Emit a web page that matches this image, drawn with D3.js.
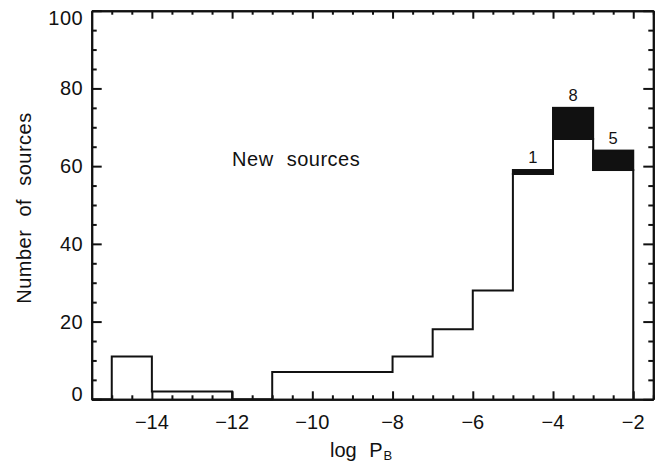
<!DOCTYPE html>
<html>
<head>
<meta charset="utf-8">
<script src="https://cdn.jsdelivr.net/npm/d3@7"></script>
<style>
  html, body { margin: 0; padding: 0; background: #fff; }
  svg { display: block; }
  text { font-family: "Liberation Sans", Arial, Helvetica, sans-serif; fill: #111; }
</style>
</head>
<body>
<script>
// Histogram of log P_B for the new sources
const binStart = [-15, -14, -13, -12, -11, -10, -9, -8, -7, -6, -5, -4, -3];
const binWidth = 1;
const counts   = [11, 2, 2, 0, 7, 7, 7, 11, 18, 28, 58, 67, 59];
// additional sources stacked on top of the outlined histogram
const extra    = [0, 0, 0, 0, 0, 0, 0, 0, 0, 0, 1, 8, 5];

const xMajorTicks = [-14, -12, -10, -8, -6, -4, -2];
const yMajorTicks = [0, 20, 40, 60, 80, 100];
const xDomain = [-15.5, -1.5];
const yDomain = [0, 100];

const W = 668, H = 466;
const plotL = 91.7, plotR = 653.3, plotT = 10.7, plotB = 399.3;
const ink = "#111";

const svg = d3.select("body").append("svg")
  .attr("width", W).attr("height", H);
svg.append("rect").attr("width", W).attr("height", H).attr("fill", "#fff");

const x = d3.scaleLinear().domain(xDomain).range([plotL, plotR]);
const y = d3.scaleLinear().domain(yDomain).range([plotB, plotT]);

const bins = binStart.map((s, i) => ({ x0: s, x1: s + binWidth, n: counts[i], add: extra[i] }));

// stacked black blocks
svg.append("g").selectAll("rect")
  .data(bins.filter(d => d.add > 0))
  .join("rect")
  .attr("x", d => x(d.x0))
  .attr("width", d => x(d.x1) - x(d.x0))
  .attr("y", d => y(d.n + d.add))
  .attr("height", d => y(d.n) - y(d.n + d.add))
  .attr("fill", ink)
  .attr("stroke", ink)
  .attr("stroke-width", 2);

// outlined step histogram
const pts = [[xDomain[0], 0]]
  .concat(bins.map(d => [d.x0, d.n]))
  .concat([[bins[bins.length - 1].x1, 0]]);
const step = d3.line().x(d => x(d[0])).y(d => y(d[1])).curve(d3.curveStepAfter);
svg.append("path")
  .attr("d", step(pts))
  .attr("fill", "none")
  .attr("stroke", ink)
  .attr("stroke-width", 2)
  .attr("stroke-linejoin", "miter");

// counts of the stacked sources
svg.append("g").selectAll("text")
  .data(bins.filter(d => d.add > 0))
  .join("text")
  .attr("x", d => x((d.x0 + d.x1) / 2))
  .attr("y", d => y(d.n + d.add) - 7)
  .attr("text-anchor", "middle")
  .attr("font-size", 16.5)
  .text(d => d.add);

// axes: ticks point inward on all four sides
const xMinor = d3.range(-15, -1.5 + 1e-9, 0.5).filter(v => !xMajorTicks.includes(v));
const yMinor = d3.range(5, 100, 5).filter(v => !yMajorTicks.includes(v));
const minus = v => (v < 0 ? "\u2212" + Math.abs(v) : String(v));

function styleAxis(g) {
  g.selectAll("path.domain").attr("stroke", ink).attr("stroke-width", 2);
  g.selectAll(".tick line").attr("stroke", ink).attr("stroke-width", 2);
  g.selectAll(".tick text").remove();
}

[[d3.axisBottom, plotB, 8, 4], [d3.axisTop, plotT, 8, 4]].forEach(([gen, pos, maj, mnr]) => {
  svg.append("g").attr("transform", `translate(0,${pos})`)
    .call(gen(x).tickValues(xMajorTicks).tickSize(-maj).tickSizeOuter(0))
    .call(styleAxis);
  svg.append("g").attr("transform", `translate(0,${pos})`)
    .call(gen(x).tickValues(xMinor).tickSize(-mnr).tickSizeOuter(0))
    .call(styleAxis);
});
[[d3.axisLeft, plotL, 10, 5], [d3.axisRight, plotR, 10, 5]].forEach(([gen, pos, maj, mnr]) => {
  svg.append("g").attr("transform", `translate(${pos},0)`)
    .call(gen(y).tickValues(yMajorTicks).tickSize(-maj).tickSizeOuter(0))
    .call(styleAxis);
  svg.append("g").attr("transform", `translate(${pos},0)`)
    .call(gen(y).tickValues(yMinor).tickSize(-mnr).tickSizeOuter(0))
    .call(styleAxis);
});

// tick labels
svg.append("g").selectAll("text")
  .data(xMajorTicks)
  .join("text")
  .attr("x", d => x(d))
  .attr("y", plotB + 29.7)
  .attr("text-anchor", "middle")
  .attr("font-size", 20)
  .text(minus);

svg.append("g").selectAll("text")
  .data(yMajorTicks)
  .join("text")
  .attr("x", plotL - 8.5)
  .attr("y", d => Math.min(Math.max(y(d) + 7, plotT + 14.3), plotB + 1.7))
  .attr("text-anchor", "end")
  .attr("font-size", 20)
  .attr("letter-spacing", 0.5)
  .text(minus);

// axis titles
const yTitle = svg.append("text")
  .attr("transform", `translate(30.5,${(plotT + plotB) / 2 + 3}) rotate(-90)`)
  .attr("text-anchor", "middle")
  .attr("font-size", 20)
  .attr("letter-spacing", 0.5);
["Number", "of", "sources"].forEach((w, i) => {
  yTitle.append("tspan").attr("dx", i ? 7 : 0).text((i ? " " : "") + w);
});

const xTitle = svg.append("text")
  .attr("x", 330)
  .attr("y", plotB + 57.7)
  .attr("font-size", 20);
xTitle.append("tspan").text("log");
xTitle.append("tspan").attr("dx", 7).text(" P");
xTitle.append("tspan").attr("dx", 1).attr("dy", 3).attr("font-size", 13).text("B");

// in-plot label
const note = svg.append("text")
  .attr("x", x(-12))
  .attr("y", y(60))
  .attr("font-size", 20)
  .attr("letter-spacing", 0.5);
note.append("tspan").text("New");
note.append("tspan").attr("dx", 7).text(" sources");
</script>
</body>
</html>
